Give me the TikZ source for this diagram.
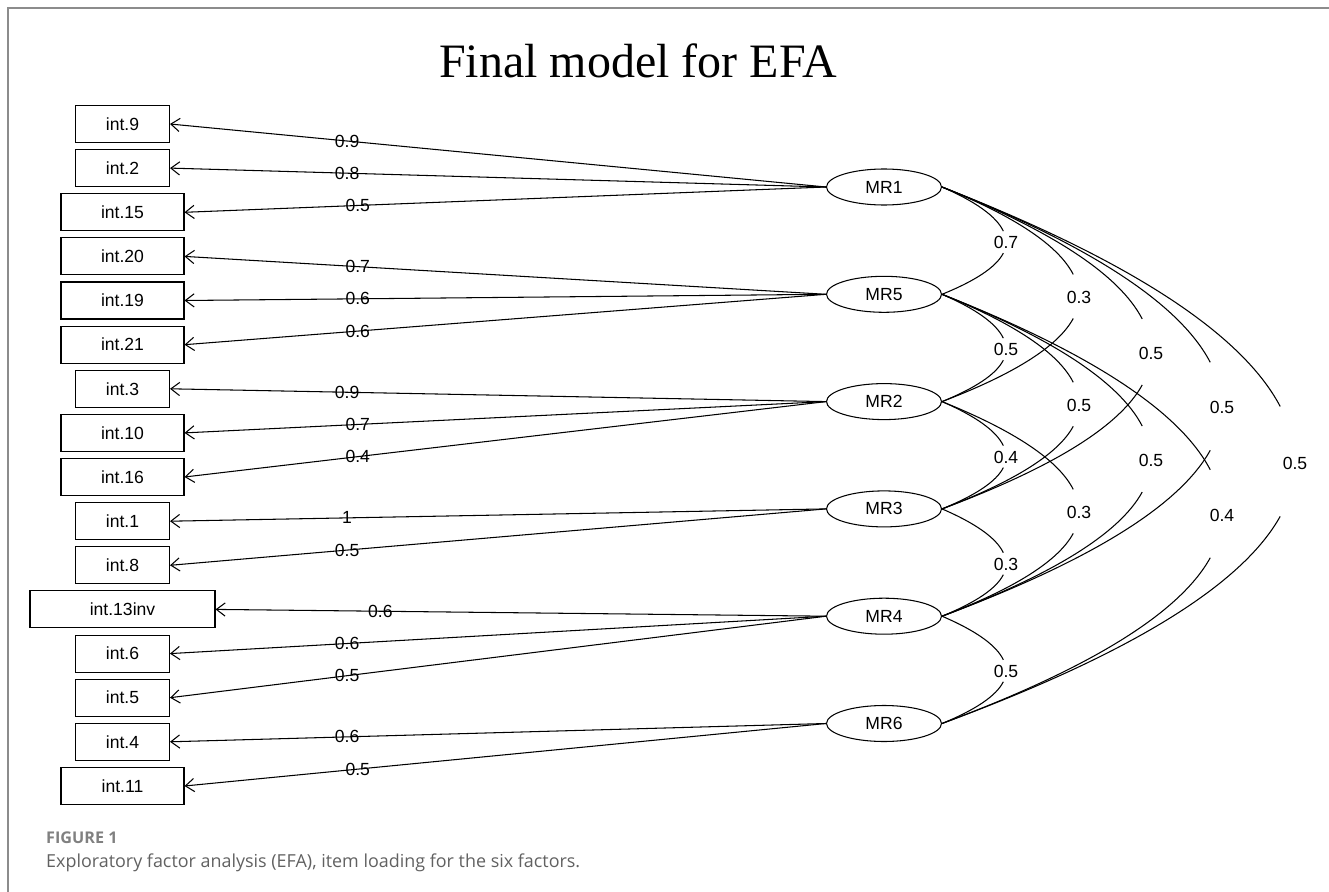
\documentclass[tikz,border=0pt]{standalone}
\usepackage{fontspec}
\setmainfont{Liberation Sans}
\newfontfamily\titlefont{Liberation Serif}
\newfontfamily\capfont{Open Sans}
\usepackage{tikz}
\usetikzlibrary{shapes.geometric, positioning, arrows.meta, calc}

\tikzset{
  item/.style={draw, line width=0.6pt, minimum height=0.74cm, minimum width=#1,
    inner sep=0pt, font=\fontsize{10}{12}\selectfont},
  item/.default=1.88cm,
  factor/.style={draw, ellipse, line width=0.6pt, minimum width=2.3cm,
    minimum height=0.72cm, inner sep=0pt, font=\fontsize{10}{12}\selectfont},
  load/.style={line width=0.6pt, -{Straight Barb[length=5pt,width=7.5pt]}},
  loadlab/.style={inner sep=0pt, font=\fontsize{10}{12}\selectfont},
  corrlab/.style={inner sep=0pt, font=\fontsize{10}{12}\selectfont},
  corr/.style={line width=0.6pt},
}

\begin{document}
\begin{tikzpicture}[x=0.02cm, y=-0.02cm]
\useasboundingbox (0,0) rectangle (1329,892);
\draw[black!45, line width=1.2pt] (8,892) -- (8,8) -- (1329,8); % frame

\node[font=\titlefont\fontsize{27.3}{30}\selectfont, anchor=base] (title) at (638,78) {Final model for EFA};

% items
\node[item] (i9) at (122.5,124) {int.9};
\node[item] (i2) at (122.5,168.1) {int.2};
\node[item=2.46cm] (i15) at (122.5,212.3) {int.15};
\node[item=2.46cm] (i20) at (122.5,256.4) {int.20};
\node[item=2.46cm] (i19) at (122.5,300.5) {int.19};
\node[item=2.46cm] (i21) at (122.5,344.7) {int.21};
\node[item] (i3) at (122.5,388.8) {int.3};
\node[item=2.46cm] (i10) at (122.5,432.9) {int.10};
\node[item=2.46cm] (i16) at (122.5,477) {int.16};
\node[item] (i1) at (122.5,521.2) {int.1};
\node[item] (i8) at (122.5,565.3) {int.8};
\node[item=3.7cm] (i13inv) at (122.5,609.4) {int.13inv};
\node[item] (i6) at (122.5,653.6) {int.6};
\node[item] (i5) at (122.5,697.7) {int.5};
\node[item] (i4) at (122.5,741.8) {int.4};
\node[item=2.46cm] (i11) at (122.5,786) {int.11};

% factors
\node[factor] (mr1) at (884,187) {MR1};
\node[factor] (mr5) at (884,294.3) {MR5};
\node[factor] (mr2) at (884,401.6) {MR2};
\node[factor] (mr3) at (884,508.9) {MR3};
\node[factor] (mr4) at (884,616.2) {MR4};
\node[factor] (mr6) at (884,723.5) {MR6};

% loadings
\draw[load] (mr1.west) -- node[loadlab, pos=0.73] {0.9} (i9.east);
\draw[load] (mr1.west) -- node[loadlab, pos=0.73] {0.8} (i2.east);
\draw[load] (mr1.west) -- node[loadlab, pos=0.73] {0.5} (i15.east);
\draw[load] (mr5.west) -- node[loadlab, pos=0.73] {0.7} (i20.east);
\draw[load] (mr5.west) -- node[loadlab, pos=0.73] {0.6} (i19.east);
\draw[load] (mr5.west) -- node[loadlab, pos=0.73] {0.6} (i21.east);
\draw[load] (mr2.west) -- node[loadlab, pos=0.73] {0.9} (i3.east);
\draw[load] (mr2.west) -- node[loadlab, pos=0.73] {0.7} (i10.east);
\draw[load] (mr2.west) -- node[loadlab, pos=0.73] {0.4} (i16.east);
\draw[load] (mr3.west) -- node[loadlab, pos=0.73] {1} (i1.east);
\draw[load] (mr3.west) -- node[loadlab, pos=0.73] {0.5} (i8.east);
\draw[load] (mr4.west) -- node[loadlab, pos=0.73] {0.6} (i13inv.east);
\draw[load] (mr4.west) -- node[loadlab, pos=0.73] {0.6} (i6.east);
\draw[load] (mr4.west) -- node[loadlab, pos=0.73] {0.5} (i5.east);
\draw[load] (mr6.west) -- node[loadlab, pos=0.73] {0.6} (i4.east);
\draw[load] (mr6.west) -- node[loadlab, pos=0.73] {0.5} (i11.east);

% factor correlations
\node[corrlab] (c15) at (1006,242.5) {0.7};
\node[corrlab] (c52) at (1006,349.5) {0.5};
\node[corrlab] (c23) at (1006,457) {0.4};
\node[corrlab] (c34) at (1006,564) {0.3};
\node[corrlab] (c46) at (1006,671) {0.5};
\node[corrlab] (c12) at (1079,297) {0.3};
\node[corrlab] (c53) at (1079,405) {0.5};
\node[corrlab] (c24) at (1079,512) {0.3};
\node[corrlab] (c13) at (1151,353) {0.5};
\node[corrlab] (c54) at (1151,460) {0.5};
\node[corrlab] (c14) at (1222,407.5) {0.5};
\node[corrlab] (c56) at (1222,515) {0.4};
\node[corrlab] (c16) at (1295,463) {0.5};

\foreach \fa/\fb/\lab in {mr1/mr5/c15, mr5/mr2/c52, mr2/mr3/c23, mr3/mr4/c34,
    mr4/mr6/c46, mr1/mr2/c12, mr5/mr3/c53, mr2/mr4/c24, mr1/mr3/c13,
    mr5/mr4/c54, mr1/mr4/c14, mr5/mr6/c56, mr1/mr6/c16}
  \draw[corr] let \p1=(\fa.east), \p2=(\lab.center), \p3=(\fb.east) in
    (\p1) .. controls ({\x2+0.47*(\x1-\x2)},{\y2+0.735*(\y1-\y2)})
                 and ({\x2+0.151*(\x1-\x2)},{\y2+0.47*(\y1-\y2)})
          .. ({\x2+0.042*(\x1-\x2)},{\y2+0.205*(\y1-\y2)})
    ({\x2+0.042*(\x3-\x2)},{\y2+0.205*(\y3-\y2)})
          .. controls ({\x2+0.151*(\x3-\x2)},{\y2+0.47*(\y3-\y2)})
                  and ({\x2+0.47*(\x3-\x2)},{\y2+0.735*(\y3-\y2)})
          .. (\p3);

% caption
\node[anchor=base west, font=\capfont\bfseries\fontsize{9.2}{11}\selectfont, text=black!50] (fig) at (40,843) {FIGURE 1};
\node[anchor=base west, font=\capfont\fontsize{10.2}{12}\selectfont, text=black!62] (cap) at (40,867) {Exploratory factor analysis (EFA), item loading for the six factors.};
\end{tikzpicture}
\end{document}
